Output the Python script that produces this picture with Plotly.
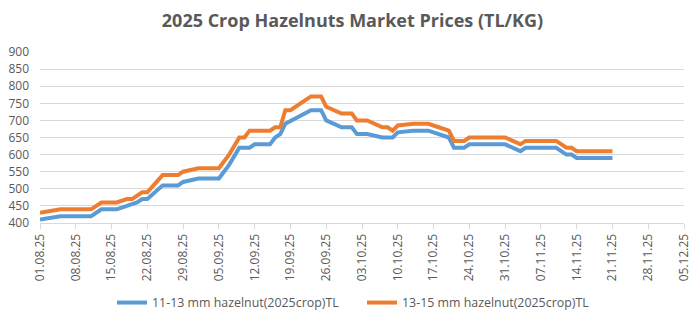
import plotly.graph_objects as go

title_text = "2025 Crop Hazelnuts Market Prices (TL/KG)"

name_small = "11-13 mm hazelnut(2025crop)TL"
dates_small = ["2025-08-01", "2025-08-05", "2025-08-11", "2025-08-13", "2025-08-16",
               "2025-08-18", "2025-08-20", "2025-08-21", "2025-08-22", "2025-08-25",
               "2025-08-28", "2025-08-29", "2025-09-01", "2025-09-05", "2025-09-07",
               "2025-09-09", "2025-09-11", "2025-09-12", "2025-09-15", "2025-09-16",
               "2025-09-17", "2025-09-18", "2025-09-23", "2025-09-25", "2025-09-26",
               "2025-09-29", "2025-10-01", "2025-10-02", "2025-10-04", "2025-10-07",
               "2025-10-09", "2025-10-10", "2025-10-13", "2025-10-16", "2025-10-18",
               "2025-10-20", "2025-10-21", "2025-10-23", "2025-10-24", "2025-10-31",
               "2025-11-03", "2025-11-04", "2025-11-10", "2025-11-12", "2025-11-13",
               "2025-11-14", "2025-11-21"]
prices_small = [410, 420, 420, 440, 440,
                450, 460, 470, 470, 510,
                510, 520, 530, 530, 570,
                620, 620, 630, 630, 650,
                660, 690, 730, 730, 700,
                680, 680, 660, 660, 650,
                650, 665, 670, 670, 660,
                650, 620, 620, 630, 630,
                610, 620, 620, 600, 600,
                590, 590]

name_large = "13-15 mm hazelnut(2025crop)TL"
dates_large = ["2025-08-01", "2025-08-05", "2025-08-11", "2025-08-13", "2025-08-16",
               "2025-08-18", "2025-08-19", "2025-08-21", "2025-08-22", "2025-08-25",
               "2025-08-28", "2025-08-29", "2025-09-01", "2025-09-05", "2025-09-07",
               "2025-09-09", "2025-09-10", "2025-09-11", "2025-09-15", "2025-09-16",
               "2025-09-17", "2025-09-18", "2025-09-19", "2025-09-23", "2025-09-25",
               "2025-09-26", "2025-09-29", "2025-10-01", "2025-10-02", "2025-10-04",
               "2025-10-07", "2025-10-08", "2025-10-09", "2025-10-10", "2025-10-13",
               "2025-10-16", "2025-10-18", "2025-10-20", "2025-10-21", "2025-10-23",
               "2025-10-24", "2025-10-31", "2025-11-03", "2025-11-04", "2025-11-10",
               "2025-11-12", "2025-11-13", "2025-11-14", "2025-11-21"]
prices_large = [430, 440, 440, 460, 460,
                470, 470, 490, 490, 540,
                540, 550, 560, 560, 600,
                650, 650, 670, 670, 680,
                680, 730, 730, 770, 770,
                740, 720, 720, 700, 700,
                680, 680, 670, 685, 690,
                690, 680, 670, 640, 640,
                650, 650, 630, 640, 640,
                620, 620, 610, 610]

x_range = ["2025-08-01", "2025-12-05"]
y_ticks = [400, 450, 500, 550, 600, 650, 700, 750, 800, 850, 900]

FONT = "Open Sans"
GREY = "#595959"

fig = go.Figure()
fig.add_trace(go.Scatter(x=dates_small, y=prices_small, mode="lines", name=name_small,
                         line=dict(color="#5B9BD5", width=4)))
fig.add_trace(go.Scatter(x=dates_large, y=prices_large, mode="lines", name=name_large,
                         line=dict(color="#ED7D31", width=4)))

fig.update_layout(
    width=698, height=322,
    margin=dict(l=40, r=14, t=52, b=99, autoexpand=False),
    paper_bgcolor="white", plot_bgcolor="white",
    font=dict(family=FONT, size=12, color=GREY),
    title=dict(text="<b>" + title_text + "</b>", x=0.505, xanchor="center",
               y=0.935, yanchor="middle",
               font=dict(family=FONT, size=18, color=GREY)),
    showlegend=True,
    legend=dict(orientation="h", x=0.5, xanchor="center",
                yref="container", y=0.059, yanchor="middle",
                font=dict(family=FONT, size=12.4, color=GREY), itemwidth=30,
                entrywidth=205, entrywidthmode="pixels",
                bgcolor="rgba(0,0,0,0)"),
    xaxis=dict(type="date", range=x_range, tick0="2025-08-01", dtick=7 * 86400000,
               tickformat="%d.%m.%y", tickangle=-90, showgrid=False,
               showline=True, linecolor="#d9d9d9", linewidth=1,
               ticks="outside", ticklen=5, tickcolor="#d9d9d9", automargin=False,
               tickfont=dict(family=FONT, size=12, color=GREY), zeroline=False),
    yaxis=dict(range=[400, 900], tickvals=y_ticks, showgrid=True, automargin=False,
               gridcolor="#d9d9d9", gridwidth=1, zeroline=False, showline=False,
               ticklabelstandoff=10,
               tickfont=dict(family=FONT, size=12, color=GREY)),
)

fig.write_html("out.html")
